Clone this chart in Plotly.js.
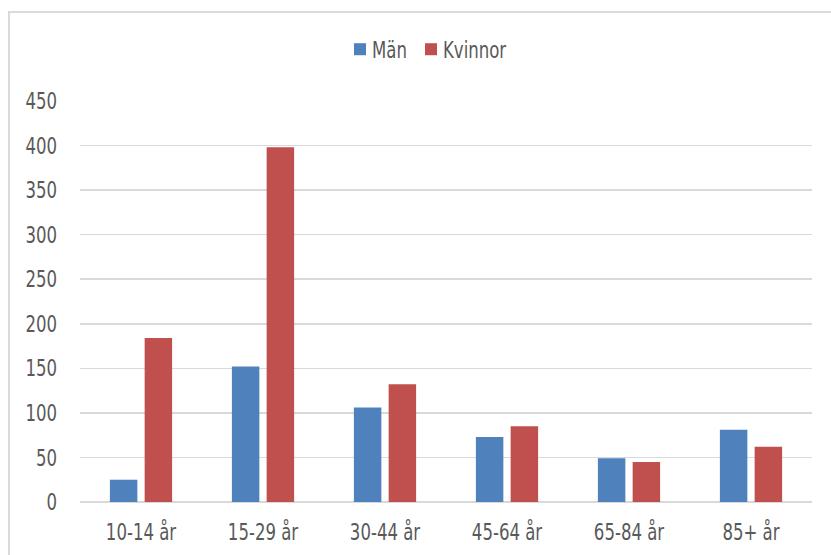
<!DOCTYPE html>
<html>
<head>
<meta charset="utf-8">
<script src="https://cdn.plot.ly/plotly-3.0.1.min.js"></script>
<style>
  html, body { margin: 0; padding: 0; background: #ffffff; }
  #wrap { position: relative; width: 831px; height: 555px; overflow: hidden; }
  #frame { position: absolute; left: 8px; top: 11px; width: 900px; height: 600px;
           border-left: 2px solid #d9d9d9; border-top: 2px solid #d9d9d9; box-sizing: border-box; pointer-events: none; }
  #chart { position: absolute; left: 0; top: 0; width: 831px; height: 555px; }
</style>
</head>
<body>
<div id="wrap">
  <div id="chart"></div>
  <div id="frame"></div>
</div>
<script>
const categories = ["10-14 år", "15-29 år", "30-44 år", "45-64 år", "65-84 år", "85+ år"];
const manValues = [25, 152, 106, 73, 49, 81];
const kvinnorValues = [184, 398, 132, 85, 45, 62];
const seriesNames = ["Män", "Kvinnor"];
const yTicks = [0, 50, 100, 150, 200, 250, 300, 350, 400, 450];

const FONT = '"DejaVu Sans Condensed", "Liberation Sans", sans-serif';
const TXT = '#595959';
const FS = 23;
const SQUEEZE = 0.8;

const traces = [
  { type: 'bar', name: seriesNames[0], x: categories, y: manValues,
    marker: { color: '#4F81BD', line: { width: 0 } }, hoverinfo: 'none' },
  { type: 'bar', name: seriesNames[1], x: categories, y: kvinnorValues,
    marker: { color: '#C0504D', line: { width: 0 } }, hoverinfo: 'none' }
];

const layout = {
  width: 831, height: 555,
  margin: { l: 80, r: 19, t: 101, b: 53, pad: 0 },
  paper_bgcolor: '#ffffff', plot_bgcolor: '#ffffff',
  font: { family: FONT, color: TXT, size: FS },
  barmode: 'group', bargap: 0.43, bargroupgap: 0.21,
  showlegend: true,
  legend: { orientation: 'h', x: 0.3552, xanchor: 'left', y: 1.129, yanchor: 'middle',
            entrywidth: 26, entrywidthmode: 'pixels',
            font: { family: FONT, color: TXT, size: FS }, bgcolor: 'rgba(0,0,0,0)' },
  xaxis: { type: 'category', showgrid: false, zeroline: false, showline: false,
           ticks: '', ticklabelstandoff: 14, tickfont: { family: FONT, color: TXT, size: FS } },
  yaxis: { range: [0, 450], tickvals: yTicks, ticktext: yTicks.map(String),
           showgrid: true, gridcolor: '#d9d9d9', gridwidth: 1.6,
           zeroline: true, zerolinecolor: '#d9d9d9', zerolinewidth: 1.6,
           showline: false, ticks: '', ticklabelstandoff: 22,
           tickfont: { family: FONT, color: TXT, size: FS } }
};

function condense() {
  document.querySelectorAll('#chart svg text').forEach(function (t) {
    if (!t.textContent) return;
    const w = t.getComputedTextLength();
    if (!w) return;
    t.setAttribute('textLength', (w * SQUEEZE).toFixed(2));
    t.setAttribute('lengthAdjust', 'spacingAndGlyphs');
  });
  // tighten the gap between legend swatch and label, as in the reference
  document.querySelectorAll('#chart svg .legend text.legendtext').forEach(function (t) {
    const x = parseFloat(t.getAttribute('x') || '0');
    t.setAttribute('x', (x - 8).toString());
  });
  // let the last legend label show in full
  document.querySelectorAll('#chart svg .legend [clip-path]').forEach(function (e) {
    e.removeAttribute('clip-path');
  });
}

Plotly.newPlot('chart', traces, layout, { displayModeBar: false, staticPlot: true }).then(condense);
</script>
</body>
</html>
